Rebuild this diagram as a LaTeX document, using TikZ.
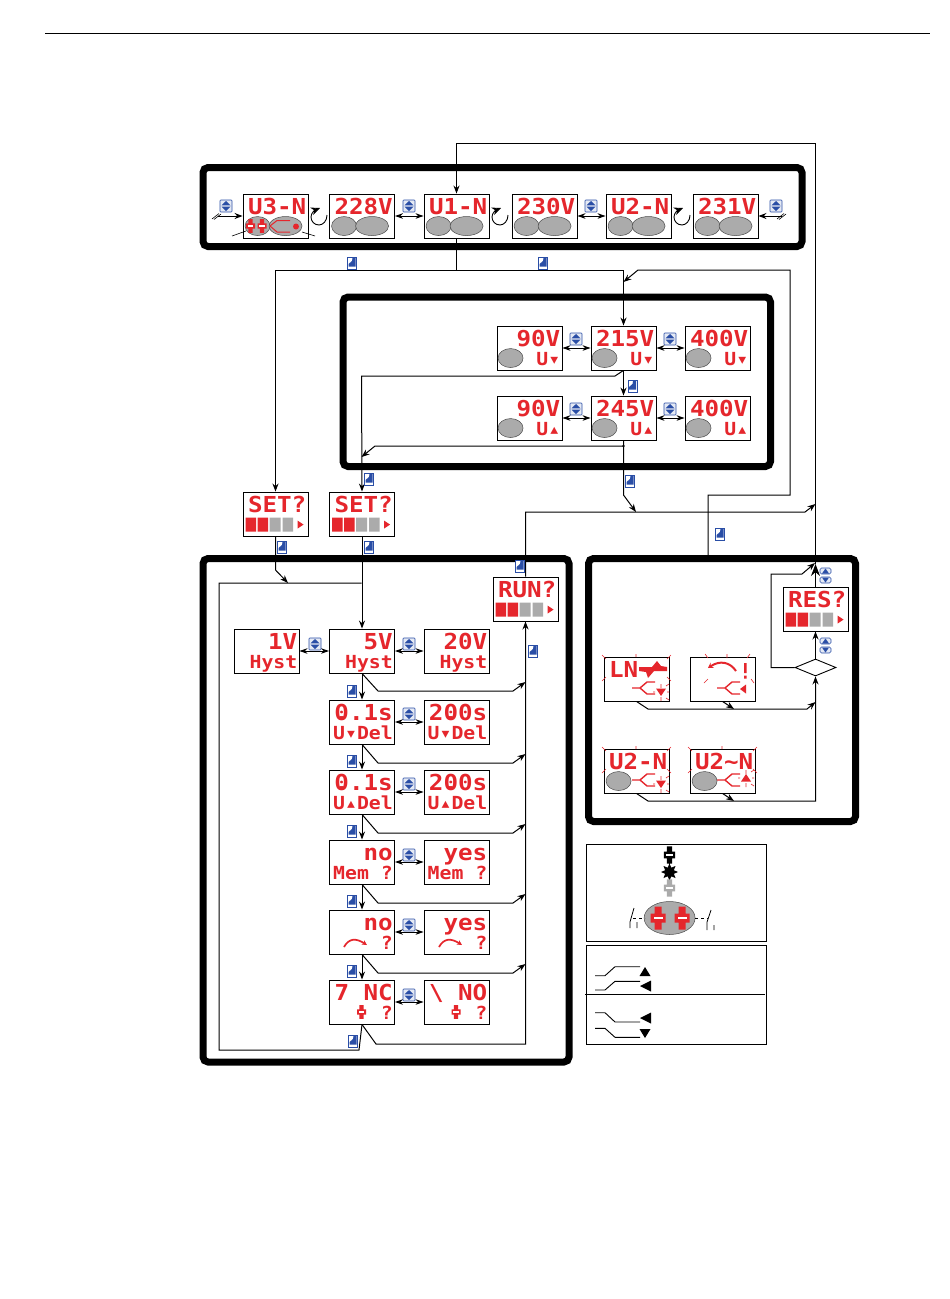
\documentclass[tikz,border=0pt]{standalone}
\usepackage{fontspec}
\usetikzlibrary{arrows.meta,shapes.geometric}
\newfontfamily\lcdfont[FakeStretch=1.1]{DejaVu Sans Mono}
\newcommand{\lcdA}{\lcdfont\bfseries\fontsize{22}{22}\selectfont}
\newcommand{\lcdB}{\lcdfont\bfseries\fontsize{18}{18}\selectfont}
\newcommand{\undot}{\kern-14.5pt.}
\definecolor{lcdred}{HTML}{E5262C}
\definecolor{keyblue}{HTML}{2A4EA6}
\definecolor{ovalgrey}{HTML}{ABABAB}
\tikzset{
	lcdbox/.style={draw,fill=white,line width=.9pt,minimum width=65pt,minimum height=44pt,inner sep=0pt},
	lcdtop/.style={anchor=base east,inner sep=0pt,text=lcdred,font=\lcdA},
	lcdlow/.style={anchor=base east,inner sep=0pt,text=lcdred,font=\lcdB},
	panel/.style={draw,line width=7pt,rounded corners=5pt},
	link/.style={draw,line width=1pt},
	linkto/.style={link,-{Stealth[length=8pt,width=6pt]}},
	linkboth/.style={link,{Stealth[length=8pt,width=5.5pt]}-{Stealth[length=8pt,width=5.5pt]}},
	thinline/.style={draw,line width=.6pt},
	redline/.style={draw=lcdred,line width=1.4pt},
	rayline/.style={draw=lcdred,line width=.6pt},
	ovalfill/.style={fill=ovalgrey,draw=black!70,line width=.5pt},
	keynode/.style={draw=keyblue,fill=keyblue!12,line width=.6pt,rounded corners=.8pt,inner sep=0pt,minimum width=12pt,minimum height=12pt},
	keyflat/.style={draw=keyblue,fill=keyblue!12,line width=.6pt,rounded corners=1.5pt,inner sep=0pt,minimum width=11pt,minimum height=6pt},
	keytall/.style={draw=keyblue,fill=white,line width=.6pt,inner sep=0pt,minimum width=9pt,minimum height=12pt},
}
% display: name, left, top, upper text, lower text
\newcommand{\lcd}[5]{
	\node[lcdbox] (#1) at (#2+32.5,#3+22) {};
	\node[lcdtop] (#1top) at (#2+63.5,#3+20) {#4};
	\node[lcdlow] (#1low) at (#2+63.5,#3+39) {#5};
}
\newcommand{\lcdoval}[3]{\path[ovalfill] ([xshift=#2pt,yshift=-32.5pt]#1.north west) ellipse (#3 and 9.5);}
\newcommand{\lcdbars}[1]{
	\begin{scope}[shift={(#1.north west)}]
		\fill[lcdred] (3,26) rectangle (13.5,40) (15,26) rectangle (25.5,40);
		\fill[ovalgrey] (27,26) rectangle (38,40) (40,26) rectangle (50.5,40);
		\fill[lcdred] (55,29) -- (61,33) -- (55,37) -- cycle;
	\end{scope}
}
\newcommand{\keynav}[3]{
	\node[keynode] (#1) at (#2,#3) {};
	\fill[keyblue] (#2,#3-5) -- (#2+4.5,#3-.6) -- (#2-4.5,#3-.6) -- cycle (#2,#3+5) -- (#2+4.5,#3+.6) -- (#2-4.5,#3+.6) -- cycle;
}
\newcommand{\keyenter}[3]{
	\node[keytall] (#1) at (#2,#3) {};
	\fill[keyblue] (#2+3.5,#3-5) -- (#2+3.5,#3+3.5) -- (#2-3.5,#3+3.5) -- (#2-3.5,#3+1) -- (#2,#3-2) -- (#2+.5,#3-5) -- cycle;
}
\newcommand{\keypair}[3]{
	\node[keyflat] (#1up) at (#2,#3) {};
	\node[keyflat] (#1dn) at (#2,#3+9) {};
	\fill[keyblue] (#2,#3-2.5) -- (#2+3.5,#3+2.5) -- (#2-3.5,#3+2.5) -- cycle;
	\fill[keyblue] (#2,#3+11.5) -- (#2+3.5,#3+6.5) -- (#2-3.5,#3+6.5) -- cycle;
}
\newcommand{\curlarrow}[3]{
	\coordinate (#1) at (#2,#3);
	\draw[line width=.9pt,-{Stealth[length=9pt,width=8pt]}] (#2+8,#3-2) .. controls (#2+8,#3+4) and (#2+4,#3+8) .. (#2,#3+8) .. controls (#2-5,#3+8) and (#2-8,#3+4) .. (#2-8,#3) .. controls (#2-8,#3-4) and (#2-4,#3-7) .. (#2+1,#3-9);
}
\newcommand{\relaysym}[4]{
	\begin{scope}[shift={(#1,#2)},scale=#4]
		\fill[#3] (-7.5,-4.5) rectangle (7.5,4.5) (-3.5,-11.5) rectangle (3.5,11.5);
		\fill[white] (-4.5,-1.2) rectangle (4.5,1.2);
	\end{scope}
}
\newcommand{\contactsym}[2]{
	\draw[redline,line join=round] (#1,#2) -- (#1+8,#2) -- (#1+15,#2-6) -- (#1+23,#2-6) (#1+8,#2) -- (#1+15,#2+6) -- (#1+23,#2+6);
}
\newcommand{\raysbox}[3]{
	\draw[rayline] (#1-2,#2-2) -- (#1+2,#2+2) (#1+67,#2-2) -- (#1+63,#2+2) (#1-2,#2+24) -- (#1+2,#2+20) (#1+67,#2+24) -- (#1+63,#2+20) (#1+32,#2-3) -- (#1+32,#2+#3);
}
\newcommand{\raysmark}[2]{
	\draw[rayline] (#1,#2-8) -- (#1,#2-4) (#1,#2+5) -- (#1,#2+9) (#1-8,#2) -- (#1-6,#2) (#1+6,#2) -- (#1+8,#2) (#1+5,#2-6) -- (#1+8,#2-8) (#1+5,#2+6) -- (#1+8,#2+8);
}
\newcommand{\marksdown}[2]{\fill[lcdred] (#1-5,#2-3.5) -- (#1+5,#2-3.5) -- (#1,#2+4) -- cycle;}
\newcommand{\marksup}[2]{\fill[lcdred] (#1-5,#2+3.5) -- (#1+5,#2+3.5) -- (#1,#2-4) -- cycle;}
\newcommand{\redcurve}[2]{
	\draw[redline,line width=1.7pt,-{Stealth[length=5pt,width=5pt]}] (#1,#2) .. controls (#1+5,#2-9) and (#1+12,#2-9) .. (#1+23,#2-2);
}
\begin{document}
\begin{tikzpicture}[x=1pt,y=-1pt]
	\useasboundingbox (0,0) rectangle (950,1299);
	\draw[line width=.9pt] (45,33) -- (930,33);
	% frames
	\draw[panel] (203,167.5) rectangle (802,246.5);
	\draw[panel] (343,297) rectangle (770.5,466.5);
	\draw[panel] (203,558.5) rectangle (569,1062);
	\draw[panel] (588.5,558.5) rectangle (855.5,821.5);
	% top row
	\lcd{uthree}{243}{194}{U3-N}{}
	\lcd{vthree}{329.5}{194}{228V}{}
	\lcd{uone}{424}{194}{U1-N}{}
	\lcd{vone}{512}{194}{230V}{}
	\lcd{utwo}{606}{194}{U2-N}{}
	\lcd{vtwo}{693}{194}{231V}{}
	\foreach \n in {uthree,vthree,uone,vone,utwo,vtwo}{
		\lcdoval{\n}{15}{12.5}
		\lcdoval{\n}{43}{16.5}
	}
	\relaysym{250.5}{226}{lcdred}{.6}
	\relaysym{262}{226}{lcdred}{.6}
	\draw[redline,line width=1pt] (270,226) -- (277,220.5) -- (290,220.5) (270,226) -- (277,232) -- (290,232);
	\fill[lcdred] (296,226.5) circle (3);
	\draw[thinline] (232,236) -- (246,231) (302,232) -- (315,236);
	\curlarrow{curlA}{319}{217}
	\curlarrow{curlB}{500}{217}
	\curlarrow{curlC}{682}{217}
	\coordinate (stubL) at (218,216);
	\coordinate (stubR) at (782,216);
	\draw[linkto] (stubL) -- (uthree.west);
	\draw[linkto] (stubR) -- (vtwo.east);
	\draw[thinline] (212,219) -- (219,213.5) (214,219.5) -- (221,214) (777,219) -- (784,213.5) (779,219.5) -- (786,214);
	\draw[linkboth] (vthree.east) -- (uone.west);
	\draw[linkboth] (vone.east) -- (utwo.west);
	% voltage limits
	\lcd{lowA}{497}{326}{90V}{U▾}
	\lcd{lowB}{591}{326}{215V}{U▾}
	\lcd{lowC}{685}{326}{400V}{U▾}
	\lcd{uppA}{497}{396}{90V}{U▴}
	\lcd{uppB}{591}{396}{245V}{U▴}
	\lcd{uppC}{685}{396}{400V}{U▴}
	\foreach \n in {lowA,lowB,lowC,uppA,uppB,uppC}{
		\lcdoval{\n}{14}{12.5}
	}
	\draw[linkboth] (lowA.east) -- (lowB.west);
	\draw[linkboth] (lowB.east) -- (lowC.west);
	\draw[linkboth] (uppA.east) -- (uppB.west);
	\draw[linkboth] (uppB.east) -- (uppC.west);
	\draw[linkto] (lowB.south) -- (uppB.north);
	% set, run, res
	\lcd{setA}{243}{492}{SET?}{}
	\lcd{setB}{329.5}{492}{SET?}{}
	\lcd{runA}{493}{577}{RUN?}{}
	\lcd{resA}{783}{587}{RES?}{}
	\foreach \n in {setA,setB,runA,resA}{
		\lcdbars{\n}
	}
	% hysteresis column
	\lcd{hystL}{234}{629}{1V}{Hyst}
	\lcd{hystM}{329.5}{629}{5V}{Hyst}
	\lcd{hystR}{424}{629}{20V}{Hyst}
	\lcd{delLM}{329.5}{700}{0\undot.1s}{U▾Del}
	\lcd{delLR}{424}{700}{20\undot0s}{U▾Del}
	\lcd{delUM}{329.5}{770}{0\undot.1s}{U▴Del}
	\lcd{delUR}{424}{770}{20\undot0s}{U▴Del}
	\lcd{memM}{329.5}{840}{no}{Mem ?}
	\lcd{memR}{424}{840}{yes}{Mem ?}
	\lcd{retM}{329.5}{910}{no}{?}
	\lcd{retR}{424}{910}{yes}{?}
	\lcd{relM}{329.5}{980}{7 NC}{?}
	\lcd{relR}{424}{980}{\textbackslash{} NO}{?}
	\redcurve{344}{947}
	\redcurve{439}{947}
	\relaysym{361.5}{1012}{lcdred}{.6}
	\relaysym{456}{1012}{lcdred}{.6}
	\draw[linkboth] (hystL.east) -- (hystM.west);
	\foreach \a/\b in {hystM/hystR,delLM/delLR,delUM/delUR,memM/memR,retM/retR,relM/relR}{
		\draw[linkboth] (\a.east) -- (\b.west);
	}
	\foreach \a/\b in {hystM/delLM,delLM/delUM,delUM/memM,memM/retM,retM/relM}{
		\draw[linkto] (\a.south) -- (\b.north);
	}
	\foreach \a/\y in {hystM/691,delLM/763,delUM/833,memM/903,retM/973}{
		\coordinate (bus\a) at (525.5,\y-9);
		\draw[linkto] (\a.south) -- (378,\y) -- (513,\y) -- (bus\a);
	}
	\draw[linkto] (relM.south) -- (376,1044) -- (525.5,1044) -- (runA.south);
	\coordinate (loopTop) at (361.5,583);
	\draw[link] (relM.south) -- (359,1050) -- (219,1050) -- (219,583) -- (loopTop);
	\draw[linkto] (setB.south) -- (hystM.north);
	\coordinate (setHit) at (288,583);
	\draw[linkto] (setA.south) -- (275.5,570) -- (setHit);
	% upper bus
	\coordinate (splitA) at (456.5,270);
	\draw[link] (uone.south) -- (splitA);
	\draw[linkto] (splitA) -- (275.5,270) -- (setA.north);
	\draw[linkto] (splitA) -- (623.5,270) -- (lowB.north);
	\draw[linkto] (lowB.south) -- (615,376) -- (361.5,376) -- (setB.north);
	\coordinate (splitB) at (623.5,446);
	\coordinate (hitB) at (361.5,457);
	\draw[linkto] (splitB) -- (375,446) -- (hitB);
	\fill (splitB) circle (1.3);
	\coordinate (hitC) at (636,512);
	\draw[linkto] (uppB.south) -- (623.5,495) -- (hitC);
	\coordinate (hitD) at (815.5,504);
	\draw[linkto] (runA.north) -- (525.5,512) -- (805,512) -- (hitD);
	% reset panel
	\lcd{alarmA}{604}{657}{LN\phantom{xx}}{}
	\lcd{alarmB}{690}{657}{}{}
	\lcd{alarmC}{604}{749}{U2-N}{}
	\lcd{alarmD}{690}{749}{U2\textasciitilde N}{}
	\lcdoval{alarmC}{15}{12.5}
	\lcdoval{alarmD}{15}{12.5}
	\raysbox{604}{657}{0}
	\raysbox{604}{749}{0}
	\raysbox{690}{749}{0}
	\fill[lcdred] (639,667) -- (652,667) -- (657,661) -- (661,666) -- (667,667) -- (667,671) -- (654,671) -- (648,678) -- (646,672) -- (639,671) -- cycle;
	\draw[redline,line width=2pt,-{Stealth[length=5pt,width=6pt]}] (736,671) .. controls (730,662) and (720,660) .. (708,668);
	\fill[lcdred] (744,663) rectangle (746.5,673) (744,675.5) rectangle (746.5,678.5);
	\draw[rayline] (705,654) -- (708,658) (727,654) -- (727,658) (750,654) -- (747,658) (704,683) -- (708,679) (751,679) -- (754,683);
	\contactsym{632}{688}
	\contactsym{717}{688}
	\contactsym{632}{780}
	\contactsym{717}{780}
	\marksdown{661}{692}
	\fill[lcdred] (740,689) -- (746,684.5) -- (746,693.5) -- cycle;
	\marksdown{661}{784}
	\marksup{746}{778}
	\raysmark{661}{692}
	\raysmark{661}{784}
	\raysmark{746}{778}
	\node[diamond,draw,line width=.9pt,minimum width=41pt,minimum height=17pt,inner sep=0pt,fill=white] (resDec) at (815.5,667.5) {};
	\draw[linkto] (resDec.north) -- (resA.south);
	\coordinate (joinA) at (815.5,702);
	\coordinate (markA) at (734,709);
	\coordinate (markB) at (734,801);
	\draw[linkto] (alarmA.south) -- (648,709) -- (807,709) -- (joinA);
	\draw[linkto] (alarmB.south) -- (markA);
	\draw[linkto] (alarmC.south) -- (648,801) -- (815.5,801) -- (resDec.south);
	\draw[linkto] (alarmD.south) -- (markB);
	\coordinate (resTop) at (815.5,564);
	\draw[link,-{Stealth[length=12pt,width=9pt]}] (resA.north) -- (resTop);
	\coordinate (hitE) at (815,563);
	\draw[linkto] (resDec.west) -- (771,667.5) -- (771,574) -- (802,574) -- (hitE);
	\draw[linkto] (resTop) -- (815.5,143) -- (456.5,143) -- (uone.north);
	\coordinate (busOut) at (708,557);
	\coordinate (hitF) at (623.5,282);
	\draw[linkto] (busOut) -- (708,495) -- (790,495) -- (790,270) -- (638,270) -- (hitF);
	% keys
	\foreach \n/\x/\y in {navA/226/206,navB/409/206,navC/591/206,navD/776/206,navE/576/339,navF/670/339,navG/576/409,navH/670/409,navI/315/644,navJ/409/644,navK/409/714,navL/409/784,navM/409/855,navN/409/925,navO/409/995}{
		\keynav{\n}{\x}{\y}
	}
	\foreach \n/\x/\y in {entA/352/263,entB/543/263,entC/632.5/386,entD/630/481,entE/369/479,entF/282/547,entG/369/547,entH/520/566,entI/533/651,entJ/720/534,entK/352/691,entL/352/761,entM/352/831,entN/352/901,entO/352/971,entP/353/1041}{
		\keyenter{\n}{\x}{\y}
	}
	\keypair{pairA}{825.5}{571}
	\keypair{pairB}{825.5}{641}
	% legend
	\draw[line width=.8pt] (586.5,844.5) rectangle (766.5,941.5);
	\draw[line width=.8pt] (586.5,945.5) rectangle (766.5,1044);
	\draw[line width=.8pt] (585,994) -- (765,994);
	\draw[line width=1.6pt] (669.5,860) -- (669.5,884);
	\relaysym{669.5}{855}{black}{.75}
	\node[star,star points=8,star point ratio=1.8,fill=black,inner sep=0pt,minimum size=17pt] (burst) at (669.5,872) {};
	\relaysym{669.5}{888}{ovalgrey}{.75}
	\path[ovalfill] (669.6,918) ellipse (25.5 and 16.5);
	\relaysym{658}{918}{lcdred}{1}
	\relaysym{682}{918}{lcdred}{1}
	\draw[line width=.6pt,dashed] (633,918) -- (645,918) (695,918) -- (708,918);
	\draw[line width=.8pt] (634,908) -- (630,922) -- (630,928) (637,922) -- (637,928) (711,910) -- (707,922) -- (707,930) (714,925) -- (714,930);
	\draw[line width=.9pt] (595,975.7) -- (605,975.7) -- (615,966.7) -- (640,966.7);
	\draw[line width=.9pt] (595,990) -- (605,990) -- (615,981.3) -- (640,981.3);
	\draw[line width=.9pt] (595,1012.7) -- (605,1012.7) -- (615,1022) -- (640,1022);
	\draw[line width=.9pt] (595,1028.3) -- (605,1028.3) -- (615,1037.3) -- (640,1037.3);
	\fill (645,967) -- (650.5,976) -- (639.5,976) -- cycle;
	\fill (640,986) -- (651,980.5) -- (651,991.5) -- cycle;
	\fill (640,1018) -- (651,1012.5) -- (651,1023.5) -- cycle;
	\fill (645,1038) -- (650.5,1029) -- (639.5,1029) -- cycle;
\end{tikzpicture}
\end{document}
